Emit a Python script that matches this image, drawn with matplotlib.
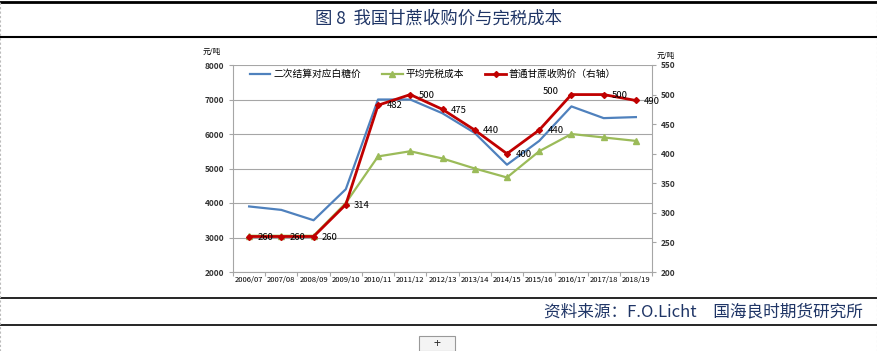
import matplotlib.pyplot as plt
from matplotlib.patches import Rectangle

plt.rcParams['font.family'] = ['Noto Sans CJK SC', 'DejaVu Sans']

seasons = ["2006/07", "2007/08", "2008/09", "2009/10", "2010/11", "2011/12", "2012/13",
           "2013/14", "2014/15", "2015/16", "2016/17", "2017/18", "2018/19"]
sugar_price = [3900, 3800, 3500, 4400, 7000, 7000, 6600, 6030, 5110, 5800, 6800, 6460, 6490]
tax_cost = [3050, 3050, 3050, 4000, 5350, 5500, 5290, 5000, 4740, 5500, 6000, 5900, 5800]
cane_price = [260, 260, 260, 314, 482, 500, 475, 440, 400, 440, 500, 500, 490]

BLUE = "#4F81BD"
GREEN = "#9BBB59"
RED = "#C00000"
NAVY = "#1F3566"
GRID = "#A6A6A6"

fig = plt.figure(figsize=(8.78, 3.51), dpi=100)

# page frame: title bar and source bar
def hline(y, lw=1.2, color="black"):
    fig.add_artist(plt.Line2D([0, 1], [y, y], transform=fig.transFigure, color=color, lw=lw))

hline(1 - 1.5 / 351, lw=2)
hline(1 - 37 / 351, lw=1.5)
hline(1 - 298 / 351, lw=1.2)
hline(1 - 325 / 351, lw=1.2)
for xv in (0.5 / 878, 1 - 0.5 / 878):
    fig.add_artist(plt.Line2D([xv, xv], [0, 1], transform=fig.transFigure,
                              color="#BBBBBB", lw=0.8, ls=(0, (2, 2))))

fig.text(0.5, 1 - 18 / 351, "图 8  我国甘蔗收购价与完税成本", ha="center", va="center",
         fontsize=12.5, color=NAVY)
fig.text(863 / 878, 1 - 312 / 351, "资料来源：F.O.Licht　国海良时期货研究所", ha="right",
         va="center", fontsize=12, color=NAVY)

# little "+" button
fig.add_artist(Rectangle((419 / 878, 0), 36 / 878, 15 / 351, transform=fig.transFigure,
                         facecolor="#F4F4F4", edgecolor="#999999", lw=0.8))
fig.text(437 / 878, 7 / 351, "+", ha="center", va="center", fontsize=9, color="#333333")

ax = fig.add_axes([233 / 878, 1 - 272 / 351, 419 / 878, 207 / 351])
x = list(range(len(seasons)))

ax.plot(x, sugar_price, color=BLUE, lw=1.6, label="二次结算对应白糖价")
ax.plot(x, tax_cost, color=GREEN, lw=1.6, marker="^", ms=5, label="平均完税成本")

ax.set_ylim(2000, 8000)
ax.set_yticks(range(2000, 8001, 1000))
ax.set_xlim(-0.5, len(seasons) - 0.5)
ax.set_xticks([i - 0.5 for i in range(len(seasons) + 1)])
ax.set_xticklabels([])
ax.set_xticks(x, minor=True)
ax.set_xticklabels(seasons, minor=True)
ax.tick_params(axis="x", which="major", length=3, color=GRID)
ax.tick_params(axis="x", which="minor", length=0, labelsize=5.5, pad=3)
ax.tick_params(axis="y", length=3, color=GRID, labelsize=6)
ax.grid(axis="y", color=GRID, lw=0.8)
ax.set_axisbelow(True)
for s in ("top", "right"):
    ax.spines[s].set_visible(False)
for s in ("left", "bottom"):
    ax.spines[s].set_color(GRID)
for lab in ax.get_yticklabels():
    lab.set_fontweight("bold")
    lab.set_color("#333333")

ax2 = ax.twinx()
ax2.plot(x, cane_price, color=RED, lw=2, marker="D", ms=3, label="普通甘蔗收购价（右轴）")
ax2.set_ylim(200, 550)
ax2.set_yticks(range(200, 551, 50))
ax2.tick_params(axis="y", length=3, color=GRID, labelsize=6)
for s in ("top", "left", "bottom"):
    ax2.spines[s].set_visible(False)
ax2.spines["right"].set_color(GRID)
for lab in ax2.get_yticklabels():
    lab.set_color("#333333")
    lab.set_fontweight("bold")

for i, v in enumerate(cane_price):
    if i == 10:
        ax2.annotate(str(v), (i, v), xytext=(-15, 2.5), textcoords="offset points",
                     fontsize=6.8, ha="center", va="center")
    else:
        ax2.annotate(str(v), (i, v), xytext=(6, -0.5), textcoords="offset points",
                     fontsize=6.8, ha="left", va="center")

fig.text(203 / 878, 1 - 52 / 351, "元/吨", fontsize=5.5, ha="left", va="center")
fig.text(657 / 878, 1 - 56 / 351, "元/吨", fontsize=5.5, ha="left", va="center")

h1, l1 = ax.get_legend_handles_labels()
h2, l2 = ax2.get_legend_handles_labels()
ax.legend(h1 + h2, l1 + l2, ncol=3, frameon=False, fontsize=7, loc="center left",
          bbox_to_anchor=(0.04, 1 - 9 / 207), handlelength=2.1, columnspacing=2.2,
          handletextpad=0.3, borderaxespad=0, borderpad=0)

fig.savefig("out.png", dpi=100)
